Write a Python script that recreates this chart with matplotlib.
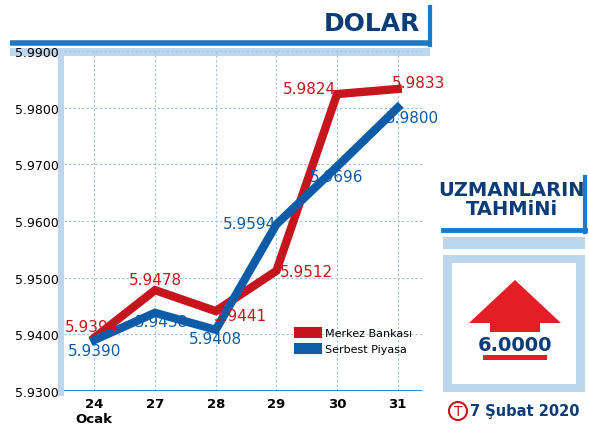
import matplotlib.pyplot as plt
from matplotlib.patches import Rectangle, Polygon, Circle

days = ['24\nOcak', '27', '28', '29', '30', '31']
merkez = [5.9394, 5.9478, 5.9441, 5.9512, 5.9824, 5.9833]
serbest = [5.9390, 5.9438, 5.9408, 5.9594, 5.9696, 5.9800]
yticks = [5.93, 5.94, 5.95, 5.96, 5.97, 5.98, 5.99]

RED = '#c4161c'
BLUE = '#0e5ca8'
NAVY = '#0b3c78'
LIGHT = '#bcd6ee'

W, H = 589, 435
fig = plt.figure(figsize=(W / 100, H / 100), dpi=100)

# overlay in pixel coords for decorations
bg = fig.add_axes([0, 0, 1, 1], zorder=0)
bg.set_xlim(0, W)
bg.set_ylim(H, 0)
bg.axis('off')

# DOLAR header bracket
bg.text(420, 24, 'DOLAR', color=NAVY, fontsize=18, fontweight='bold',
        ha='right', va='center')
bg.plot([10, 430], [44, 44], color='#1f78c1', lw=4, solid_capstyle='butt')
bg.plot([430, 430], [8, 46], color='#1f78c1', lw=3)
bg.add_patch(Rectangle((10, 49), 420, 8, color=LIGHT, lw=0))
# chart frame
bg.add_patch(Rectangle((58, 57), 6, 340, color=LIGHT, lw=0))

# right panel
bg.text(512, 200, 'UZMANLARIN\nTAHMiNi', color=NAVY, fontsize=14, fontweight='bold',
        ha='center', va='center', linespacing=1.0)
bg.plot([443, 585], [231, 231], color='#1f78c1', lw=3.5)
bg.plot([585, 585], [178, 233], color='#1f78c1', lw=3)
bg.add_patch(Rectangle((443, 238), 142, 12, color=LIGHT, lw=0))
bg.add_patch(Rectangle((443, 256), 142, 137, color=LIGHT, lw=0))
bg.add_patch(Rectangle((452, 264), 124, 121, color='white', lw=0))
bg.add_patch(Polygon([(469, 324), (515, 281), (561, 324), (540, 324), (540, 333),
                      (490, 333), (490, 324)], closed=True, color='#e41e26', lw=0))
bg.text(515, 346, '6.0000', color=NAVY, fontsize=14, fontweight='bold',
        ha='center', va='center')
bg.add_patch(Rectangle((483, 356), 64, 5, color='#e41e26', lw=0))
bg.add_patch(Circle((458, 412), 9, fill=False, ec=RED, lw=1.5))
bg.text(458, 412, 'T', color=RED, fontsize=10, ha='center', va='center')
bg.text(525, 412, '7 Şubat 2020', color=NAVY, fontsize=10.5, fontweight='bold',
        ha='center', va='center')

# main chart
ax = fig.add_axes([64 / W, 1 - 392 / H, (422 - 64) / W, (392 - 52) / H], zorder=1)
ax.patch.set_alpha(0)
x = list(range(len(days)))
ax.plot(x, merkez, color=RED, lw=6, solid_joinstyle='miter', label='Merkez Bankası')
ax.plot(x, serbest, color=BLUE, lw=6, solid_joinstyle='miter', label='Serbest Piyasa')
ax.set_xlim(-0.5, 5.4)
ax.set_ylim(5.93, 5.99)
ax.set_yticks(yticks)
ax.set_yticklabels([f'{v:.4f}' for v in yticks], fontsize=9)
ax.set_xticks(x)
ax.set_xticklabels(days, fontsize=9.5, fontweight='bold')
ax.tick_params(length=0, pad=4)
ax.grid(True, color='#9cc3e6', ls=(0, (2, 2)), lw=0.8)
for s in ax.spines.values():
    s.set_visible(False)
ax.axhline(5.93, color='#1f78c1', lw=2)

fs = dict(fontsize=11, ha='center', va='center')
red_off = [(-0.05, 0.0020), (0, 0.0018), (0.4, -0.0008), (0.5, -0.0001), (-0.45, 0.0009), (0.35, 0.0011)]
blue_off = [(0, -0.0018), (0.1, -0.0015), (0.0, -0.0015), (-0.45, 0.0002), (0.0, -0.0018), (0.25, -0.0018)]
for i in x:
    ax.text(i + red_off[i][0], merkez[i] + red_off[i][1], f'{merkez[i]:.4f}', color=RED, **fs)
    ax.text(i + blue_off[i][0], serbest[i] + blue_off[i][1], f'{serbest[i]:.4f}', color=BLUE, **fs)

ax.legend(loc='lower right', fontsize=8, frameon=False, handlelength=1.5,
          handleheight=0.8, bbox_to_anchor=(1.0, 0.08))
for h in ax.get_legend().get_lines():
    h.set_linewidth(8)

fig.savefig('out.png', dpi=100)
